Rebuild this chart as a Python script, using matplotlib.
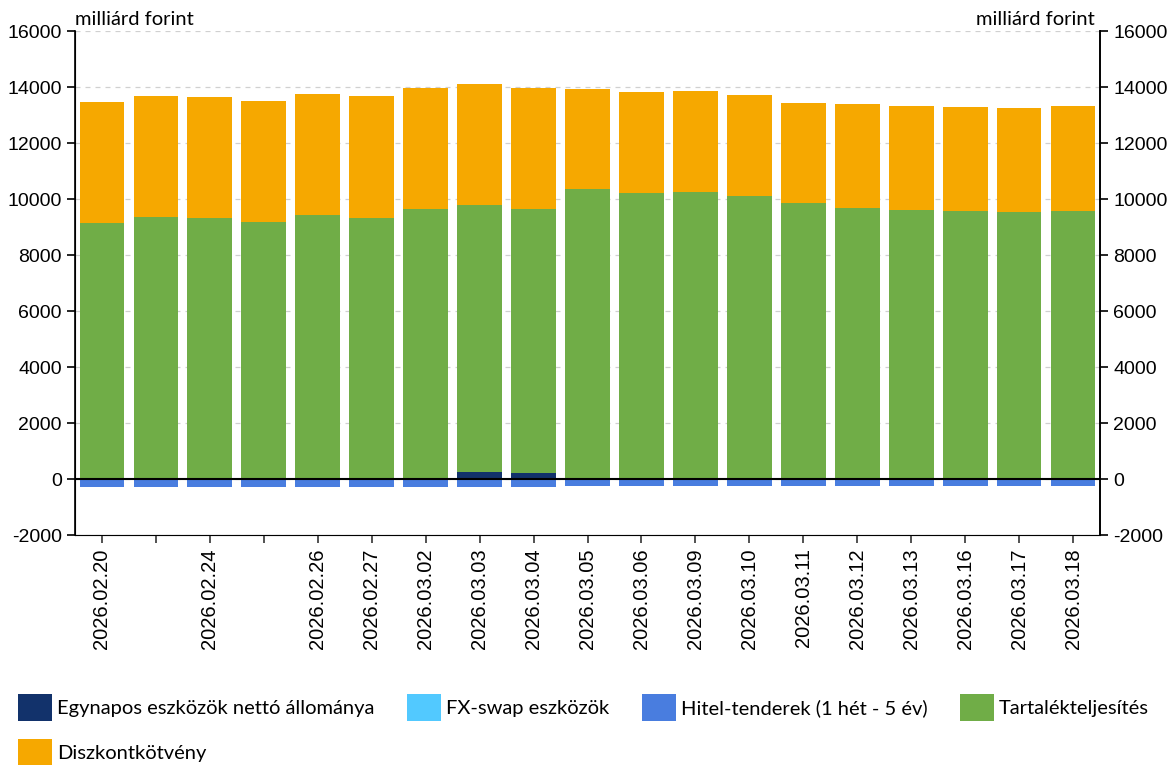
import numpy as np
import matplotlib.pyplot as plt
from matplotlib.patches import Patch

dates = ['2026.02.20', '', '2026.02.24', '', '2026.02.26', '2026.02.27',
         '2026.03.02', '2026.03.03', '2026.03.04', '2026.03.05', '2026.03.06',
         '2026.03.09', '2026.03.10', '2026.03.11', '2026.03.12', '2026.03.13',
         '2026.03.16', '2026.03.17', '2026.03.18']

egynapos = [0, 0, 0, 0, 0, 0, 0, 250, 225, 0, 0, 0, 0, 0, 0, 0, 0, 0, 0]
fxswap = [0] * 19
hitel = [-280, -280, -280, -270, -270, -270, -270, -270, -270, -260,
         -260, -260, -260, -250, -250, -250, -250, -250, -250]
tartalek = [9155, 9345, 9320, 9190, 9430, 9320, 9645, 9525, 9420, 10355,
            10225, 10260, 10120, 9855, 9665, 9620, 9585, 9525, 9585]
diszkont = [4320, 4335, 4320, 4320, 4330, 4350, 4330, 4330, 4330, 3590,
            3585, 3595, 3585, 3585, 3715, 3715, 3705, 3715, 3725]

c_egy = '#12326b'
c_fx = '#52c9ff'
c_hitel = '#497ddf'
c_tart = '#70ad47'
c_disz = '#f6a800'

plt.rcParams['font.family'] = ['Liberation Sans', 'DejaVu Sans']
plt.rcParams['axes.unicode_minus'] = False

fig = plt.figure(figsize=(11.76, 7.74), dpi=100)
ax = fig.add_axes([75 / 1176, 1 - 535 / 774, 1025 / 1176, 504 / 774])

x = np.arange(len(dates))
w = 0.83
egy = np.array(egynapos)
tart = np.array(tartalek)
ax.bar(x, hitel, w, color=c_hitel, zorder=2)
ax.bar(x, fxswap, w, color=c_fx, zorder=2)
ax.bar(x, egy, w, color=c_egy, zorder=2)
ax.bar(x, tart, w, bottom=egy, color=c_tart, zorder=2)
ax.bar(x, diszkont, w, bottom=egy + tart, color=c_disz, zorder=2)

ax.axhline(0, color='black', lw=1.5, zorder=3)
ax.set_ylim(-2000, 16000)
ax.set_xlim(-0.5, len(dates) - 0.5)
ax.set_yticks(np.arange(-2000, 16001, 2000))
ax.yaxis.grid(True, linestyle=(0, (4, 4)), color='#d0d0d0', lw=0.9, zorder=0)
ax.set_xticks(x)
ax.set_xticklabels(dates, rotation=90, fontsize=14.5)
ax.tick_params(axis='y', labelsize=14, length=6, width=1.2, direction='out')
ax.tick_params(axis='x', length=6, width=1.2, color='#333333')
ax.spines['top'].set_visible(False)
ax.spines['bottom'].set_color('#aaaaaa')
ax.spines['left'].set_linewidth(1.2)
ax.spines['right'].set_linewidth(1.2)

ax2 = ax.twinx()
ax2.set_ylim(ax.get_ylim())
ax2.set_yticks(np.arange(-2000, 16001, 2000))
ax2.tick_params(axis='y', labelsize=14, length=6, width=1.2)
ax2.spines['top'].set_visible(False)
ax2.spines['right'].set_linewidth(1.2)

ax.text(0, 1.005, 'milliárd forint', transform=ax.transAxes, fontsize=14.5,
        ha='left', va='bottom', family=['Lato', 'DejaVu Sans'])
ax.text(0.995, 1.005, 'milliárd forint', transform=ax.transAxes, fontsize=14.5,
        ha='right', va='bottom', family=['Lato', 'DejaVu Sans'])

# matplotlib fills legend columns first, so order entries to read row by row
handles = [Patch(facecolor=c_egy), Patch(facecolor=c_disz), Patch(facecolor=c_fx),
           Patch(facecolor=c_hitel), Patch(facecolor=c_tart)]
labels = ['Egynapos eszközök nettó állománya', 'Diszkontkötvény', 'FX-swap eszközök',
          'Hitel-tenderek (1 hét - 5 év)', 'Tartalékteljesítés']
fig.legend(handles, labels, loc='upper left', bbox_to_anchor=(0, 1 - 676 / 774),
           ncol=4, frameon=False, prop={'family': ['Lato', 'DejaVu Sans'], 'size': 14.5},
           handlelength=1.7, handleheight=1.65, handletextpad=0.25, columnspacing=1.6,
           labelspacing=0.9)

fig.savefig('out.png', dpi=100)
